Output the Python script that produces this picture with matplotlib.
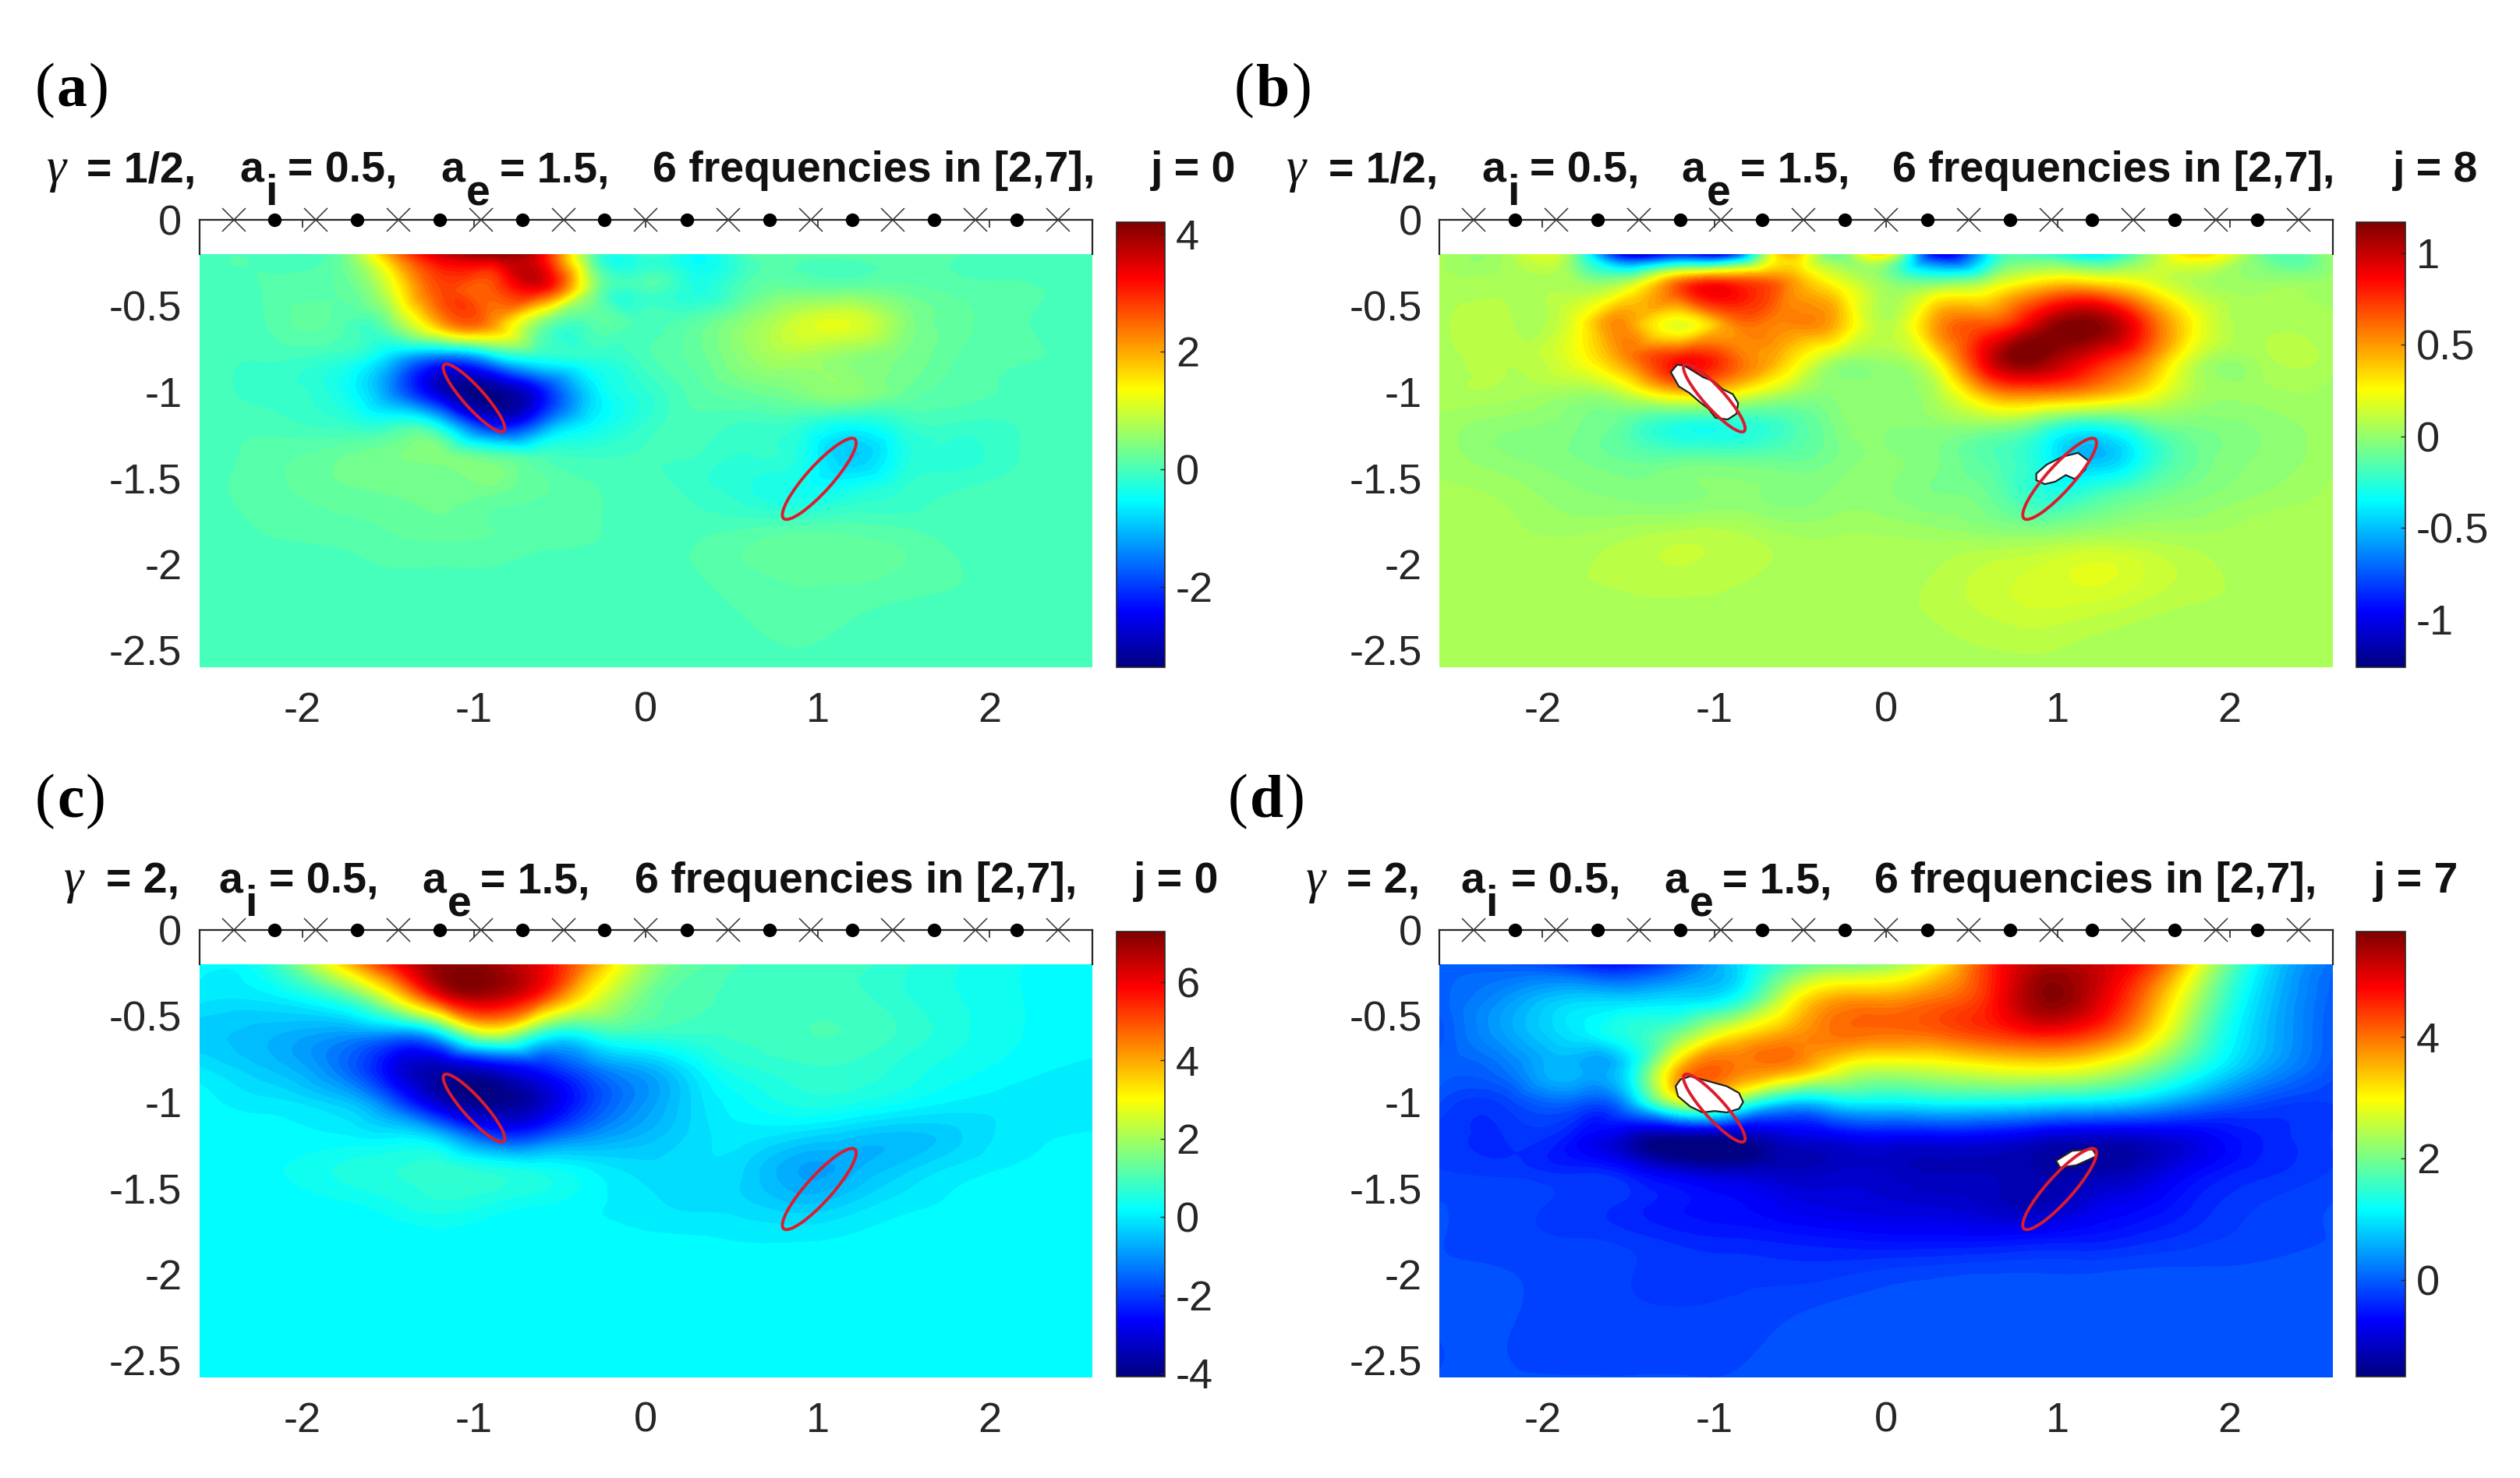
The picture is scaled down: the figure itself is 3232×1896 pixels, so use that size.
import numpy as np
import matplotlib
matplotlib.use('Agg')
import matplotlib.pyplot as plt
import matplotlib.tri as mtri
from matplotlib.patches import Ellipse, Polygon
from matplotlib.cm import ScalarMappable
from matplotlib.colors import Normalize, LinearSegmentedColormap

plt.rcParams['font.family'] = ['Liberation Sans', 'DejaVu Sans']
plt.rcParams['axes.unicode_minus'] = False

W, H = 3232, 1896

# field values, rows are depth, columns are x
grid_x = [-2.6, -2.2, -1.8, -1.5, -1.2, -0.9, -0.6, -0.3, 0, 0.3, 0.6, 0.9, 1.2, 1.5, 1.8, 2.2, 2.6]
grid_y = [-0.2, -0.4, -0.6, -0.8, -1.0, -1.2, -1.4, -1.6, -1.8, -2.0, -2.3, -2.6]

field_a = [
    [0, 0, .15, 2.0, 3.6, 4.1, 3.3, .1, -.1, -.5, .05, .1, .1, .1, .05, 0, 0],
    [0, .05, .15, 1.0, 2.7, 2.6, 3.2, .5, 0, -.3, .1, .25, .25, .2, .1, .05, 0],
    [0, .05, .1, .3, 2.0, 2.2, .4, .1, 0, .15, .55, 1.0, 1.1, .5, .2, .05, 0],
    [0, -.05, -.15, -.8, -1.6, -.9, -.3, -.2, 0, .2, .55, .7, .5, .35, .15, .05, 0],
    [0, -.1, -.35, -1.3, -2.8, -3.3, -2.3, -.7, -.2, .1, .25, .4, .5, .25, .1, 0, 0],
    [0, 0, -.1, -.15, -.5, -2.2, -1.4, -.5, -.15, 0, -.1, -.2, -.5, -.2, -.1, -.05, 0],
    [0, .1, .25, .35, .4, .3, .05, -.05, -.05, -.1, -.2, -.35, -.9, -.35, -.2, -.05, 0],
    [0, .1, .2, .25, .3, .25, .15, .05, 0, -.1, -.25, -.4, -.3, -.15, -.05, 0, 0],
    [0, .05, .1, .15, .2, .15, .1, .05, 0, 0, .05, .1, .1, .05, 0, 0, 0],
    [0, 0, 0, .05, .05, .05, 0, 0, 0, .05, .15, .2, .2, .15, .05, 0, 0],
    [0, 0, 0, 0, 0, 0, 0, 0, 0, 0, .05, .1, .05, 0, 0, 0, 0],
    [0, 0, 0, 0, 0, 0, 0, 0, 0, 0, 0, 0, 0, 0, 0, 0, 0],
]
field_b = [
    [.06, .06, -.1, -1.05, -.9, -.9, .4, -.1, .3, -1.0, -.35, -.2, -.4, -.05, .35, -.1, .03],
    [.06, .06, .06, .2, .7, .85, .6, .3, .03, .08, .2, .45, .5, .3, .08, .03, .03],
    [.06, .08, .22, .5, .2, .55, .55, .45, .08, .5, .65, 1.0, 1.15, .75, .25, .06, .05],
    [.06, .08, .22, .55, .8, .65, .4, .08, .03, .3, .95, 1.15, .9, .6, .13, .06, .05],
    [.06, .06, .03, .15, .4, .3, .08, -.02, 0, .08, .5, .6, .5, .3, .06, .03, .03],
    [.03, -.02, -.06, -.15, -.28, -.28, -.2, -.06, -.02, -.02, -.02, -.15, -.3, -.15, -.06, -.02, .03],
    [.03, -.02, -.06, -.1, -.1, -.1, -.1, -.06, -.02, -.06, -.15, -.3, -.5, -.3, -.1, -.02, .03],
    [.05, .03, -.02, -.04, -.04, -.02, -.04, -.02, -.02, -.06, -.1, -.25, -.2, -.1, -.04, .01, .05],
    [.06, .05, .03, .05, .07, .07, .03, .03, .03, .01, -.02, -.04, 0, .03, .03, .06, .06],
    [.06, .06, .07, .09, .11, .09, .07, .06, .06, .07, .11, .14, .18, .14, .09, .06, .06],
    [.06, .06, .06, .06, .06, .06, .06, .06, .06, .08, .11, .13, .11, .08, .06, .06, .06],
    [.06, .06, .06, .06, .06, .06, .06, .06, .06, .06, .06, .06, .06, .06, .06, .06, .06],
]
field_c = [
    [.2, .6, 3.2, 5.5, 7.1, 7.0, 6.0, 4.0, 2.0, 1.2, .95, .85, .85, .65, .45, .25, .16],
    [-.05, -.05, .7, 2.5, 5.5, 6.5, 5.0, 2.7, 1.4, 1.0, .9, .85, .85, .65, .45, .25, .16],
    [-.4, -.6, -.9, -1.0, 0, 2.5, .7, .6, .8, .8, .85, .95, .95, .75, .5, .25, .2],
    [-.1, -.5, -1.3, -2.7, -3.5, -3.0, -2.3, -1.3, -.7, .1, .6, .75, .75, .55, .35, .15, 0],
    [.16, -.05, -.4, -1.5, -3.3, -4.0, -3.3, -1.9, -1.0, -.2, .25, .5, .45, .25, .05, -.05, -.1],
    [.16, .16, .1, 0, -.5, -1.9, -1.7, -1.0, -.6, -.2, -.05, -.25, -.45, -.55, -.35, 0, .1],
    [.16, .2, .45, .6, .7, .55, .35, .05, -.2, -.15, -.35, -.85, -.7, -.35, -.05, .1, .16],
    [.16, .16, .2, .35, .55, .4, .25, .1, -.05, -.15, -.25, -.45, -.25, 0, .1, .16, .16],
    [.16, .16, .16, .16, .16, .16, .16, .16, .12, .1, .05, .05, .1, .16, .16, .16, .16],
    [.16, .16, .16, .16, .16, .16, .16, .16, .16, .16, .16, .16, .16, .16, .16, .16, .16],
    [.16, .16, .16, .16, .16, .16, .16, .16, .16, .16, .16, .16, .16, .16, .16, .16, .16],
    [.16, .16, .16, .16, .16, .16, .16, .16, .16, .16, .16, .16, .16, .16, .16, .16, .16],
]
field_d = [
    [0, -.05, -.4, -.55, 0, .8, 1.6, 2.0, 2.2, 3.0, 4.5, 5.3, 5.2, 4.6, 3.0, 1.0, .1],
    [0, .4, .8, .8, .9, 1.2, 2.6, 3.6, 3.7, 4.0, 4.6, 5.6, 5.2, 4.0, 2.4, .8, 0],
    [-.1, .5, 1.0, 1.4, 2.0, 3.0, 3.6, 4.0, 4.0, 4.1, 4.4, 4.7, 4.4, 3.4, 2.0, .7, -.05],
    [0, .2, .6, 1.0, 3.5, 4.0, 3.8, 3.0, 2.6, 2.7, 2.9, 3.0, 2.8, 2.2, 1.4, .5, -.1],
    [-.15, -.2, 0, .5, 2.6, 2.2, .9, 1.0, 1.1, 1.2, 1.2, 1.1, 1.0, .75, .3, -.15, -.25],
    [-.3, -.35, -.6, -1.1, -1.4, -1.35, -1.0, -.8, -.7, -.7, -.75, -.95, -1.05, -1.0, -.8, -.45, -.25],
    [-.25, -.3, -.4, -.6, -1.0, -1.15, -1.15, -1.1, -1.1, -1.2, -1.2, -1.3, -1.3, -1.1, -.7, -.4, -.25],
    [-.15, -.2, -.3, -.4, -.55, -.65, -.8, -.9, -.95, -1.0, -1.1, -1.2, -.9, -.7, -.45, -.25, -.15],
    [-.15, -.2, -.25, -.3, -.4, -.45, -.5, -.55, -.6, -.6, -.6, -.55, -.5, -.4, -.3, -.2, -.15],
    [-.15, -.15, -.2, -.25, -.3, -.3, -.3, -.28, -.22, -.18, -.15, -.15, -.15, -.12, -.12, -.12, -.1],
    [-.15, -.15, -.2, -.22, -.22, -.2, -.15, -.1, -.08, -.08, -.08, -.08, -.08, -.08, -.08, -.08, -.08],
    [-.15, -.15, -.15, -.15, -.15, -.15, -.12, -.1, -.1, -.1, -.1, -.1, -.1, -.1, -.1, -.1, -.1],
]

# colour limits
limits_a = (-3.37, 4.2)
limits_b = (-1.26, 1.17)
limits_c = (-4.08, 7.29)
limits_d = (-1.6, 5.74)

cbar_ticks_a = [-2, 0, 2, 4]
cbar_ticks_b = [-1, -0.5, 0, 0.5, 1]
cbar_ticks_c = [-4, -2, 0, 2, 4, 6]
cbar_ticks_d = [0, 2, 4]

# white holes where the reconstruction was cut out
holes_b = [
    [(-1.253, -.885), (-1.216, -.842), (-1.176, -.847), (-1.125, -.877), (-1.064, -.915), (-1.003, -.938),
     (-.953, -.983), (-.892, -1.013), (-.861, -1.066), (-.871, -1.127), (-.922, -1.160), (-.993, -1.150),
     (-1.034, -1.097), (-1.084, -1.059), (-1.145, -1.006), (-1.206, -.968)],
    [(.874, -1.475), (.935, -1.422), (1.026, -1.377), (1.117, -1.354), (1.178, -1.400), (1.158, -1.453),
     (1.097, -1.506), (1.046, -1.483), (.985, -1.521), (.924, -1.536), (.874, -1.513)],
]
holes_d = [
    [(-1.225, -.908), (-1.197, -.869), (-1.140, -.850), (-1.022, -.882), (-.927, -.908), (-.856, -.947),
     (-.832, -1.000), (-.856, -1.039), (-.927, -1.060), (-.998, -1.052), (-1.069, -1.060), (-1.140, -1.026),
     (-1.211, -.966)],
    [(.989, -1.341), (1.083, -1.283), (1.202, -1.275), (1.225, -1.314), (1.107, -1.367), (1.012, -1.380)],
]

# true inclusions: centre x, centre y, full length, full width, angle
ellipses = [(-1.0, -1.035, 0.52, 0.12, -48), (1.01, -1.505, 0.62, 0.15, 48)]

cross_x = [-2.4, -1.92, -1.44, -0.96, -0.48, 0, 0.48, 0.96, 1.44, 1.92, 2.4]
dot_x = [-2.16, -1.68, -1.2, -0.72, -0.24, 0.24, 0.72, 1.2, 1.68, 2.16]

xticks = [-2, -1, 0, 1, 2]
xtick_labels = ['-2', '-1', '0', '1', '2']
yticks = [0, -0.5, -1, -1.5, -2, -2.5]
ytick_labels = ['0', '-0.5', '-1', '-1.5', '-2', '-2.5']

titles = ['= 1/2,', '= 1/2,', '= 2,', '= 2,']
js = ['j = 0', 'j = 8', 'j = 0', 'j = 7']
letters = ['a', 'b', 'c', 'd']
fields = [field_a, field_b, field_c, field_d]
limits = [limits_a, limits_b, limits_c, limits_d]
cbar_ticks = [cbar_ticks_a, cbar_ticks_b, cbar_ticks_c, cbar_ticks_d]
holes = [[], holes_b, [], holes_d]
level_counts = [72, 72, 64, 72]

# pixel layout per panel: axes left, right, top, bottom, cbar left, right, top, bottom
boxes = [
    (255.5, 1401, 282, 856, 1432, 1494, 285, 856),
    (1846, 2992, 282, 856, 3022, 3085, 285, 856),
    (255.5, 1401, 1193, 1767, 1432, 1494, 1195, 1766),
    (1846, 2992, 1193, 1767, 3022, 3085, 1195, 1766),
]
# start of each title piece in pixels
title_pos = [
    (60, 111, 307, 340, 369, 565, 598, 641, 837, 1476),
    (1650, 1704, 1900, 1933, 1962, 2156, 2189, 2232, 2427, 3069),
    (82, 136, 280, 314, 345, 541, 574, 616, 814, 1454),
    (1675, 1727, 1873, 1905, 1938, 2134, 2167, 2209, 2404, 3044),
]
title_base = [233, 233, 1145, 1145]
letter_pos = [(45, 135), (1583, 135), (45, 1047), (1575, 1047)]

# matlab style jet, the matplotlib one never reaches pure cyan
jet = LinearSegmentedColormap.from_list('matlab_jet', [
    (0, (0, 0, .5)), (.125, (0, 0, 1)), (.375, (0, 1, 1)),
    (.625, (1, 1, 0)), (.875, (1, 0, 0)), (1, (.5, 0, 0))], N=256)

fig = plt.figure(figsize=(W / 100, H / 100), dpi=100, facecolor='white')
dark = '#262626'


def px_text(x, y, s, **kw):
    return fig.text(x / W, 1 - y / H, s, va='baseline', ha='left', **kw)


X, Y = np.meshgrid(grid_x, grid_y)
triang = mtri.Triangulation(X.ravel(), Y.ravel())
refiner = mtri.UniformTriRefiner(triang)

for i in range(4):
    l, r, t, b, cl, cr, ct, cb = boxes[i]
    ax = fig.add_axes([l / W, 1 - b / H, (r - l) / W, (b - t) / H])
    vmin, vmax = limits[i]
    norm = Normalize(vmin, vmax)
    fine, zfine = refiner.refine_field(np.array(fields[i], dtype=float).ravel(), subdiv=4)
    ax.tricontourf(fine, zfine, levels=np.linspace(vmin, vmax, level_counts[i]), cmap=jet, norm=norm, extend='both')

    for pts in holes[i]:
        ax.add_patch(Polygon(pts, closed=True, fc='white', ec='#222222', lw=1.6, zorder=3))
    for cx, cy, ew, eh, ang in ellipses:
        ax.add_patch(Ellipse((cx, cy), ew, eh, angle=ang, fc='none', ec='#dc1c2c', lw=2.8, zorder=4))

    ax.plot(cross_x, [0] * len(cross_x), 'x', color='#333333', ms=22, mew=1.1, clip_on=False, zorder=5)
    ax.plot(dot_x, [0] * len(dot_x), 'o', color='black', ms=11.5, clip_on=False, zorder=5)

    ax.set_xlim(-2.6, 2.6)
    ax.set_ylim(-2.6, 0)
    ax.set_xticks(xticks)
    ax.set_xticklabels(xtick_labels)
    ax.set_yticks(yticks)
    ax.set_yticklabels(ytick_labels)
    ax.tick_params(axis='x', top=True, bottom=False, direction='in', length=7, width=1.2, color=dark,
                   labelsize=39, labelcolor=dark, pad=22)
    ax.tick_params(axis='y', length=0, labelsize=39, labelcolor=dark, pad=16)
    ax.spines['bottom'].set_visible(False)
    ax.spines['left'].set_bounds(-0.2, 0)
    ax.spines['right'].set_bounds(-0.2, 0)
    for name in ['top', 'left', 'right']:
        ax.spines[name].set_color(dark)
        ax.spines[name].set_linewidth(1.6)

    cax = fig.add_axes([cl / W, 1 - cb / H, (cr - cl) / W, (cb - ct) / H])
    cbar = fig.colorbar(ScalarMappable(norm=norm, cmap=jet), cax=cax)
    cbar.set_ticks(cbar_ticks[i])
    cbar.set_ticklabels([('%g' % v) for v in cbar_ticks[i]])
    cax.tick_params(axis='y', direction='in', length=4, width=1, color=dark, labelsize=39, labelcolor=dark, pad=10)
    cbar.outline.set_edgecolor(dark)
    cbar.outline.set_linewidth(1.2)

    # title is put together from pieces, the subscripts are almost full size in the original
    tx = title_pos[i]
    base = title_base[i]
    bold = dict(fontsize=40, fontweight='bold', color='#111111')
    px_text(tx[0], base, '\u03b3', fontsize=46, style='italic', family='Liberation Serif', color='#111111')
    px_text(tx[1], base, titles[i], **bold)
    px_text(tx[2], base, 'a', **bold)
    px_text(tx[3], base + 30, 'i', **bold)
    px_text(tx[4], base, '= 0.5,', **bold)
    px_text(tx[5], base, 'a', **bold)
    px_text(tx[6], base + 30, 'e', **bold)
    px_text(tx[7], base, '= 1.5,', **bold)
    px_text(tx[8], base, '6 frequencies in [2,7],', **bold)
    px_text(tx[9], base, js[i], **bold)

    # panel letter, only the letter is bold
    renderer = fig.canvas.get_renderer()
    lx, ly = letter_pos[i]
    serif = dict(fontsize=56, family='Liberation Serif', color='black')
    t1 = px_text(lx, ly, '(', **serif)
    lx = t1.get_window_extent(renderer).x1 + 2
    t2 = px_text(lx, ly, letters[i], fontweight='bold', **serif)
    lx = t2.get_window_extent(renderer).x1 + 2
    px_text(lx, ly, ')', **serif)

plt.savefig('out.png', dpi=100, facecolor='white')
